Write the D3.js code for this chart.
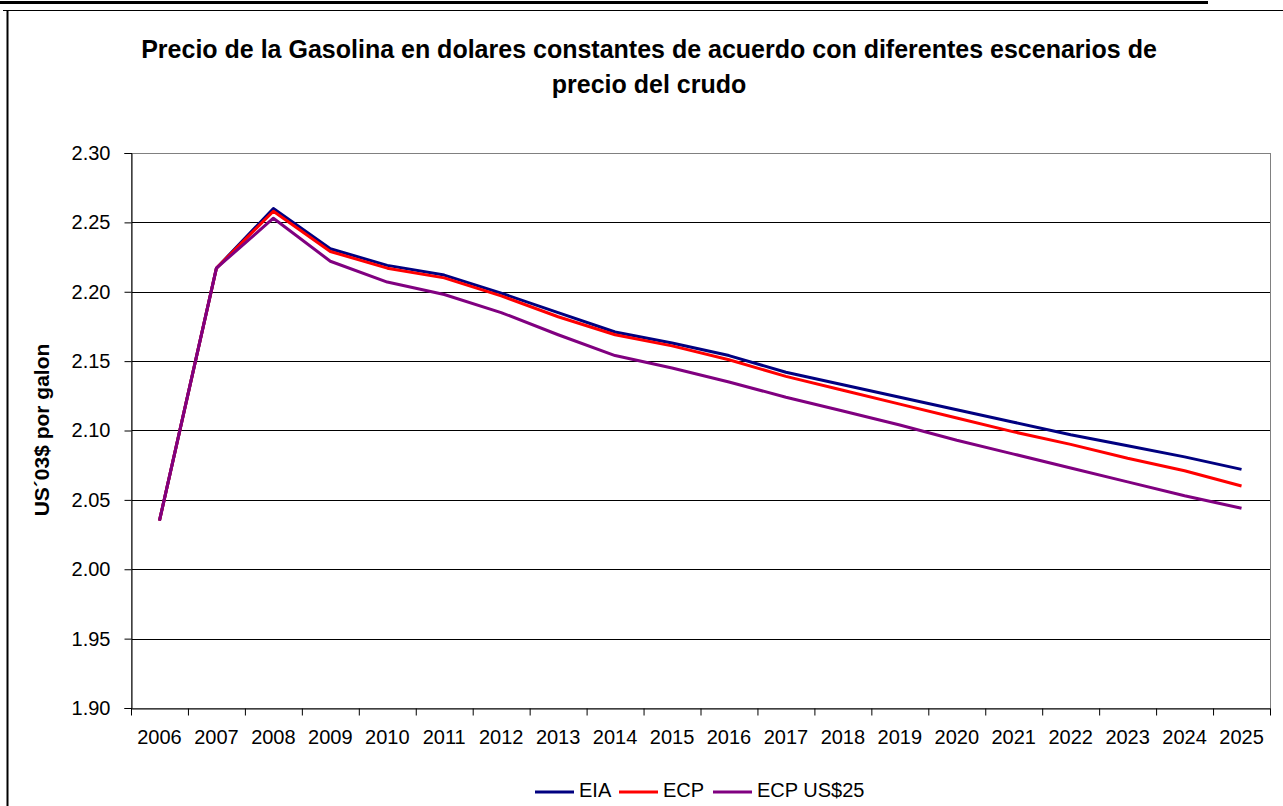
<!DOCTYPE html>
<html lang="es">
<head>
  <meta charset="UTF-8" />
  <title>Precio de la Gasolina</title>
  <style>
    body { margin: 0; background: #fff; font-family: Arial, "Liberation Sans", sans-serif; }
    svg { display: block; }
  </style>
</head>
<body>
  <svg id="chart" width="1283" height="806"></svg>
  <script src="https://d3js.org/d3.v7.min.js"></script>
  <script>
    const years = ["2006","2007","2008","2009","2010","2011","2012","2013","2014","2015",
                   "2016","2017","2018","2019","2020","2021","2022","2023","2024","2025"];
    const eia = [2.035, 2.217, 2.260, 2.231, 2.219, 2.212, 2.199, 2.185, 2.171, 2.163,
                 2.154, 2.142, 2.133, 2.124, 2.115, 2.106, 2.097, 2.089, 2.081, 2.072];
    const ecp = [2.035, 2.217, 2.258, 2.229, 2.217, 2.210, 2.197, 2.182, 2.169, 2.161,
                 2.151, 2.139, 2.129, 2.119, 2.109, 2.099, 2.090, 2.080, 2.071, 2.060];
    const ecp25 = [2.035, 2.217, 2.253, 2.222, 2.207, 2.198, 2.185, 2.169, 2.154, 2.145,
                   2.135, 2.124, 2.114, 2.104, 2.093, 2.083, 2.073, 2.063, 2.053, 2.044];
    const yTicks = [1.90, 1.95, 2.00, 2.05, 2.10, 2.15, 2.20, 2.25, 2.30];
    const seriesNames = ["EIA", "ECP", "ECP US$25"];
    const seriesColors = ["#000080", "#ff0000", "#800080"];

    const svg = d3.select("#chart");
    const plotLeft = 131, plotRight = 1270, plotTop = 153, plotBottom = 708;
    const font = "Arial, 'Liberation Sans', sans-serif";

    // outer frame
    svg.append("line").attr("x1", 0).attr("x2", 1208).attr("y1", 2.5).attr("y2", 2.5)
      .attr("stroke", "#000").attr("stroke-width", 3);
    svg.append("line").attr("x1", 3).attr("x2", 1283).attr("y1", 10.5).attr("y2", 10.5)
      .attr("stroke", "#000").attr("stroke-width", 1);
    svg.append("line").attr("x1", 7.5).attr("x2", 7.5).attr("y1", 10).attr("y2", 806)
      .attr("stroke", "#000").attr("stroke-width", 2);

    const x = d3.scaleBand().domain(years).range([plotLeft, plotRight]);
    const y = d3.scaleLinear().domain([1.9, 2.3]).range([plotBottom, plotTop]);

    // gridlines
    svg.append("g").selectAll("line").data(yTicks.slice(1, -1)).enter().append("line")
      .attr("x1", plotLeft).attr("x2", plotRight)
      .attr("y1", d => Math.round(y(d)) + 0.5).attr("y2", d => Math.round(y(d)) + 0.5)
      .attr("stroke", "#000").attr("stroke-width", 1);

    // plot border
    svg.append("rect").attr("x", plotLeft + 0.5).attr("y", plotTop + 0.5)
      .attr("width", plotRight - plotLeft).attr("height", plotBottom - plotTop)
      .attr("fill", "none").attr("stroke", "#808080").attr("stroke-width", 1);

    // y axis
    const yAxis = svg.append("g").attr("transform", `translate(${plotLeft + 0.5},0)`)
      .call(d3.axisLeft(y).tickValues(yTicks).tickFormat(d3.format(".2f")).tickSizeOuter(0).tickSize(7).tickPadding(14));
    yAxis.select(".domain").attr("stroke", "#000");
    yAxis.selectAll("text").attr("font-size", 20).attr("font-family", font).attr("fill", "#000");

    // x axis with ticks between categories
    const xAxis = svg.append("g").attr("transform", `translate(0,${plotBottom + 0.5})`)
      .call(d3.axisBottom(x).tickSize(0).tickPadding(21));
    xAxis.select(".domain").attr("stroke", "#000");
    xAxis.selectAll("text").attr("font-size", 20).attr("font-family", font).attr("fill", "#000");
    xAxis.selectAll("line.sep").data(years.concat(["end"])).enter().append("line")
      .attr("class", "sep")
      .attr("x1", (d, i) => plotLeft + i * x.bandwidth() + 0.5)
      .attr("x2", (d, i) => plotLeft + i * x.bandwidth() + 0.5)
      .attr("y1", 0).attr("y2", 7).attr("stroke", "#000");

    // lines
    const line = d3.line().x((d, i) => x(years[i]) + x.bandwidth() / 2).y(d => y(d));
    [eia, ecp, ecp25].forEach((s, k) => {
      svg.append("path").datum(s).attr("d", line)
        .attr("fill", "none").attr("stroke", seriesColors[k]).attr("stroke-width", 3)
        .attr("stroke-linejoin", "round");
    });

    // title
    const title = svg.append("text").attr("text-anchor", "middle").attr("font-family", font)
      .attr("font-size", 25).attr("font-weight", "bold").attr("fill", "#000");
    title.append("tspan").attr("x", 649).attr("y", 58)
      .text("Precio de la Gasolina en dolares constantes de acuerdo con diferentes escenarios de");
    title.append("tspan").attr("x", 649).attr("y", 93).text("precio del crudo");

    // y label
    svg.append("text").attr("transform", "translate(49,430) rotate(-90)").attr("font-family", font)
      .attr("text-anchor", "middle").attr("font-size", 21).attr("font-weight", "bold")
      .text("US´03$ por galon");

    // legend
    const legendX = [535, 619, 713];
    const legend = svg.append("g");
    seriesNames.forEach((n, k) => {
      const g = legend.append("g").attr("transform", `translate(${legendX[k]},792)`);
      g.append("line").attr("x1", 0).attr("x2", 39).attr("y1", 0).attr("y2", 0)
        .attr("stroke", seriesColors[k]).attr("stroke-width", 3);
      g.append("text").attr("x", 44).attr("y", 5).attr("font-family", font)
        .attr("font-size", 20).text(n);
    });
  </script>
</body>
</html>
